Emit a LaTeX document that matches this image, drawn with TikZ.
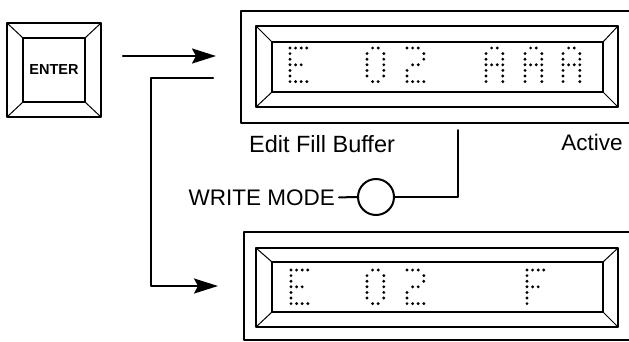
\documentclass[tikz,border=0pt]{standalone}
\usepackage{fontspec}
\setmainfont{Liberation Sans}
\usetikzlibrary{arrows.meta}
% dot patterns, col/row
\newcommand\patE{0/0,1/0,2/0,3/0,0/1,0/2,0/3,1/3,2/3,0/4,0/5,0/6,1/6,2/6,3/6}
\newcommand\patZero{1/0,2/0,0/1,3/1,0/2,3/2,0/3,3/3,0/4,3/4,0/5,3/5,1/6,2/6}
\newcommand\patTwo{0/0,1/0,2/0,3/1,3/2,1/3,2/3,0/4,0/5,0/6,1/6,2/6,3/6}
\newcommand\patA{1/0,2/0,0/1,3/1,0/2,3/2,0/3,1/3,2/3,3/3,0/4,3/4,0/5,3/5,0/6,3/6}
\newcommand\patF{0/0,1/0,2/0,3/0,0/1,0/2,0/3,1/3,2/3,0/4,0/5,0/6}
\newcommand\dmchar[2]{\foreach \c/\r in #2 {\fill[shift={#1}] (\c*5.6,\r*5.6) circle (1.6);}}
\begin{document}
\begin{tikzpicture}[x=1pt, y=-1pt, line join=round, line cap=round,
    frame/.style={draw, line width=1.6pt, inner sep=0pt, outer sep=0pt},
    bevel/.style={line width=1pt},
    flow/.style={line width=2.3pt, -{Stealth[length=24pt, width=15pt, inset=4pt]}},
    link/.style={line width=2pt},
    label/.style={font=\fontsize{22.5}{27}\selectfont, inner sep=0pt}]
	\useasboundingbox (0,0) rectangle (629,341);
	% enter key
	\node[frame, minimum width=94pt, minimum height=94pt] (key) at (54,70) {};
	\node[frame, line width=1.2pt, minimum width=62pt, minimum height=64pt,
	  font=\bfseries\fontsize{14.5}{17}\selectfont] (keyin) at (54,70) {ENTER};
	% displays
	\node[frame, minimum width=459pt, minimum height=112pt] (top) at (470.5,67) {};
	\node[frame, minimum width=362pt, minimum height=81pt] (topmid) at (437,66.5) {};
	\node[frame, minimum width=331pt, minimum height=50pt] (topin) at (437.5,67) {};
	\node[frame, minimum width=456pt, minimum height=107.5pt] (bot) at (472,286) {};
	\node[frame, minimum width=362pt, minimum height=79pt] (botmid) at (437,287.5) {};
	\node[frame, minimum width=331pt, minimum height=50pt] (botin) at (437.5,287) {};
	\foreach \a/\b in {key/keyin, topmid/topin, botmid/botin}
	\foreach \c in {north west, north east, south west, south east}
	\draw[bevel] (\a.\c) -- (\b.\c);
	\dmchar{(290,48)}{\patE} \dmchar{(367,48)}{\patZero} \dmchar{(407,48)}{\patTwo}
	\dmchar{(486,48)}{\patA} \dmchar{(525,48)}{\patA} \dmchar{(563,48)}{\patA}
	\dmchar{(291,270)}{\patE} \dmchar{(367,270)}{\patZero} \dmchar{(407,270)}{\patTwo}
	\dmchar{(527,270)}{\patF}
	% labels
	\node[label, font=\fontsize{23.5}{28}\selectfont] (fill) at (322,144) {Edit Fill Buffer};
	\node[label] (active) at (592,142) {Active};
	\node[label, anchor=east] (wmtext) at (335,197.5) {WRITE MODE};
	\node[circle, draw, line width=2pt, minimum size=36pt, inner sep=0pt] (wm) at (376,197) {};
	\coordinate (wmend) at (458,130);
	\draw[link, shorten <=4pt] (wmtext.east) -- (wm.west);
	\draw[link] (wm.east) -| (wmend);
	% arrows
	\coordinate (feed) at (123,56);
	\coordinate (ret) at (213,78);
	\coordinate (retbend) at (151,78);
	\draw[flow, shorten >=25pt] (feed) -- (feed -| top.west);
	\draw[flow, shorten >=26pt] (ret) -- (retbend) |- (bot.west);
\end{tikzpicture}
\end{document}
